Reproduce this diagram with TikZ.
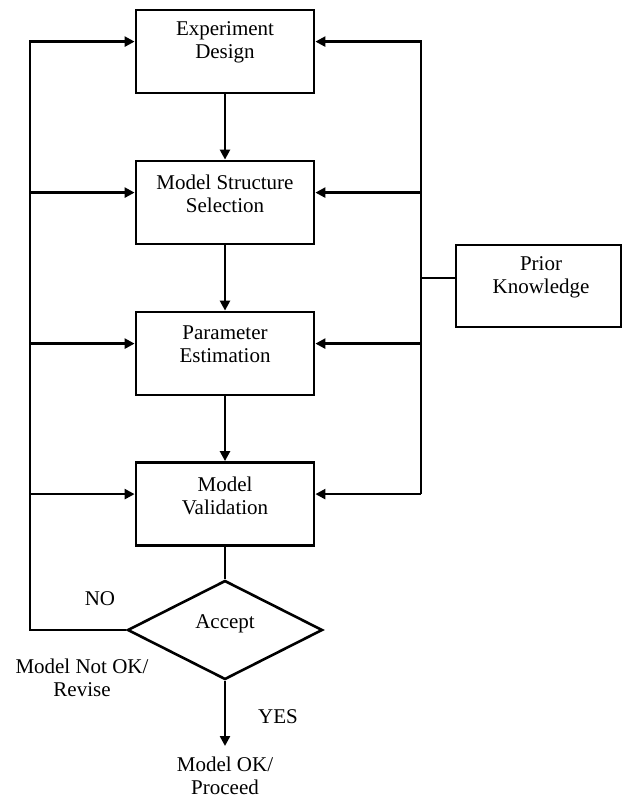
\documentclass[tikz,border=0pt]{standalone}
\usepackage{fontspec}
\setmainfont{Liberation Serif}
\usetikzlibrary{shapes.geometric,arrows.meta}
\begin{document}
\begin{tikzpicture}[x=1pt,y=-1pt,
  box/.style={draw,line width=2.8pt,minimum width=178pt,minimum height=83pt,inner sep=0pt},
  lbl/.style={align=center,font=\fontsize{21}{23}\selectfont,inner sep=0pt},
  wire/.style={line width=2.4pt,line join=miter},
  arr/.style={wire,-{Triangle[length=10pt,width=10pt]}},
  dec/.style={draw,diamond,line width=2.6pt,minimum width=195pt,minimum height=99pt,inner sep=0pt}]
\useasboundingbox (0,0) rectangle (623,799);
% boxes
\node[box] (ed)  at (225,51.5) {};
\node[box] (mss) at (225,202.5) {};
\node[box] (pe)  at (225,353.5) {};
\node[box] (mv)  at (225,504) {};
\node[box,minimum width=165pt,minimum height=82pt] (pk) at (538.5,286) {};
\node[dec] (acc) at (225,630) {};
% texts
\node[lbl] (edt)  at (225,42.5) {Experiment\\Design};
\node[lbl] (msst) at (225,193.5) {Model Structure\\Selection};
\node[lbl] (pet)  at (225,344.5) {Parameter\\Estimation};
\node[lbl] (mvt)  at (225,495.5) {Model\\Validation};
\node[lbl] (pkt)  at (541,277.5) {Prior\\Knowledge};
\node[lbl] (acct) at (225,624) {Accept};
\node[lbl] (no)   at (100,599) {NO};
\node[lbl] (yes)  at (278,717) {YES};
\node[lbl] (nok)  at (82,678) {Model Not OK/\\Revise};
\node[lbl] (ok)   at (225,776) {Model OK/\\Proceed};
% bus positions
\coordinate (L) at (30,0);
\coordinate (R) at (421,0);
\coordinate (edin)  at ([yshift=-33pt]ed.north);
\coordinate (mssin) at ([yshift=-33pt]mss.north);
\coordinate (pein)  at ([yshift=-33pt]pe.north);
\coordinate (mvin)  at ([yshift=-33pt]mv.north);
\coordinate (pkout) at ([yshift=8pt]pk.west);
\coordinate (okin)  at (225,746);
% main chain
\draw[arr] (ed) -- (mss);
\draw[arr] (mss) -- (pe);
\draw[arr] (pe) -- (mv);
\draw[wire] (mv) -- (acc);
\draw[arr] (acc.south) -- (okin);
% left feedback bus
\draw[arr] (acc.west) -| (edin -| L) -- (edin -| ed.west);
\draw[arr] (mssin -| L) -- (mssin -| mss.west);
\draw[arr] (pein -| L) -- (pein -| pe.west);
\draw[arr] (mvin -| L) -- (mvin -| mv.west);
% right prior-knowledge bus
\draw[arr] (mvin -| R) -- (edin -| R) -- (edin -| ed.east);
\draw[arr] (mssin -| R) -- (mssin -| mss.east);
\draw[arr] (pein -| R) -- (pein -| pe.east);
\draw[arr] (mvin -| R) -- (mvin -| mv.east);
\draw[wire] (pkout) -- (pkout -| R);
\end{tikzpicture}
\end{document}
